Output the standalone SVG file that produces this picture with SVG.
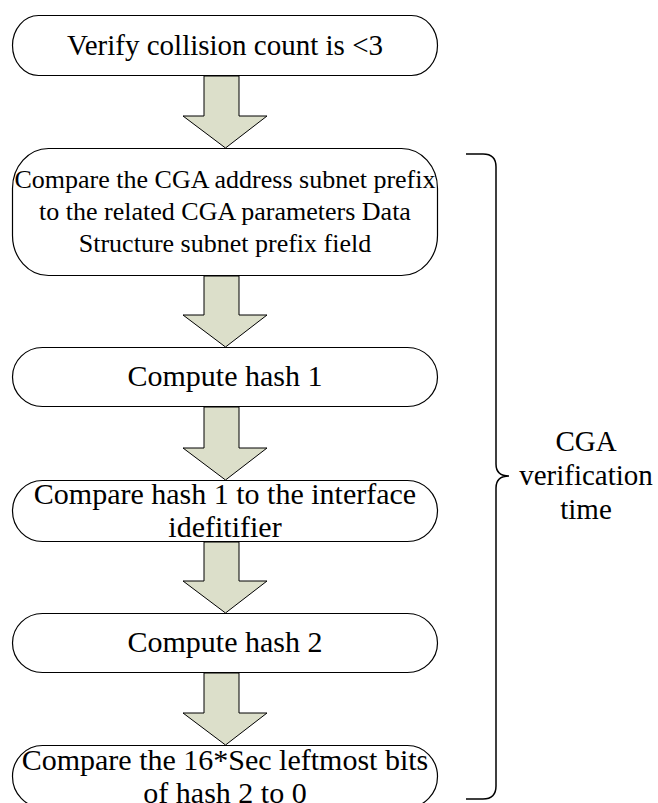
<svg xmlns="http://www.w3.org/2000/svg" width="658" height="803" viewBox="0 0 658 803">
<style>
.box{fill:#fff;stroke:#000;stroke-width:1.2}
.arr{fill:#dcdfca;stroke:#000;stroke-width:1}
.t{font-family:"Liberation Serif","Times New Roman",serif;fill:#000;text-anchor:middle}
.t30{font-size:30px}
.t26{font-size:26px}
.br{fill:none;stroke:#000;stroke-width:1.5}
</style>
<rect width="658" height="803" fill="#fff"/>
<g id="connectors">
<polygon class="arr" points="204,76 239,76 239,116 267,116 225.5,148 183,116 204,116"/>
<polygon class="arr" points="204,276 239,276 239,315 267,315 225.5,347 183,315 204,315"/>
<polygon class="arr" points="204,407 239,407 239,448 267,448 225.5,480 183,448 204,448"/>
<polygon class="arr" points="204,542 239,542 239,581 267,581 225.5,613 183,581 204,581"/>
<polygon class="arr" points="204,673 239,673 239,713 267,713 225.5,745 183,713 204,713"/>
</g>
<g id="n1">
<rect class="box" x="12.5" y="15.5" width="425" height="60" rx="26" ry="30"/>
<text class="t" x="225" y="55" font-size="29">Verify collision count is &lt;3</text>
</g>
<g id="n2">
<rect class="box" x="12.5" y="148.5" width="425" height="127" rx="36" ry="40"/>
<text class="t t26" x="225" y="188">Compare the CGA address subnet prefix</text>
<text class="t t26" x="225" y="220">to the related CGA parameters Data</text>
<text class="t t26" x="225" y="252">Structure subnet prefix field</text>
</g>
<g id="n3">
<rect class="box" x="12.5" y="347.5" width="425" height="59" rx="30" ry="29.5"/>
<text class="t t30" x="225" y="386">Compute hash 1</text>
</g>
<g id="n4">
<rect class="box" x="12.5" y="480.5" width="425" height="61" rx="30" ry="30.5"/>
<text class="t t30" x="225" y="504">Compare hash 1 to the interface</text>
<text class="t t30" x="225" y="537">idefitifier</text>
</g>
<g id="n5">
<rect class="box" x="12.5" y="613.5" width="425" height="59" rx="30" ry="29.5"/>
<text class="t t30" x="225" y="652">Compute hash 2</text>
</g>
<g id="n6">
<rect class="box" x="12.5" y="745.5" width="425" height="62" rx="30" ry="31"/>
<text class="t t30" x="225" y="770">Compare the 16*Sec leftmost bits</text>
<text class="t t30" x="225" y="803">of hash 2 to 0</text>
</g>
<g id="brace">
<path class="br" d="M466,154 H483 Q496,154 496,167 V464 Q496,476 509,476 Q496,476 496,488 V786 Q496,799 483,799 H466"/>
<text class="t" x="586" y="451" font-size="29">CGA</text>
<text class="t" x="586" y="485" font-size="29">verification</text>
<text class="t" x="586" y="519" font-size="29">time</text>
</g>
</svg>
